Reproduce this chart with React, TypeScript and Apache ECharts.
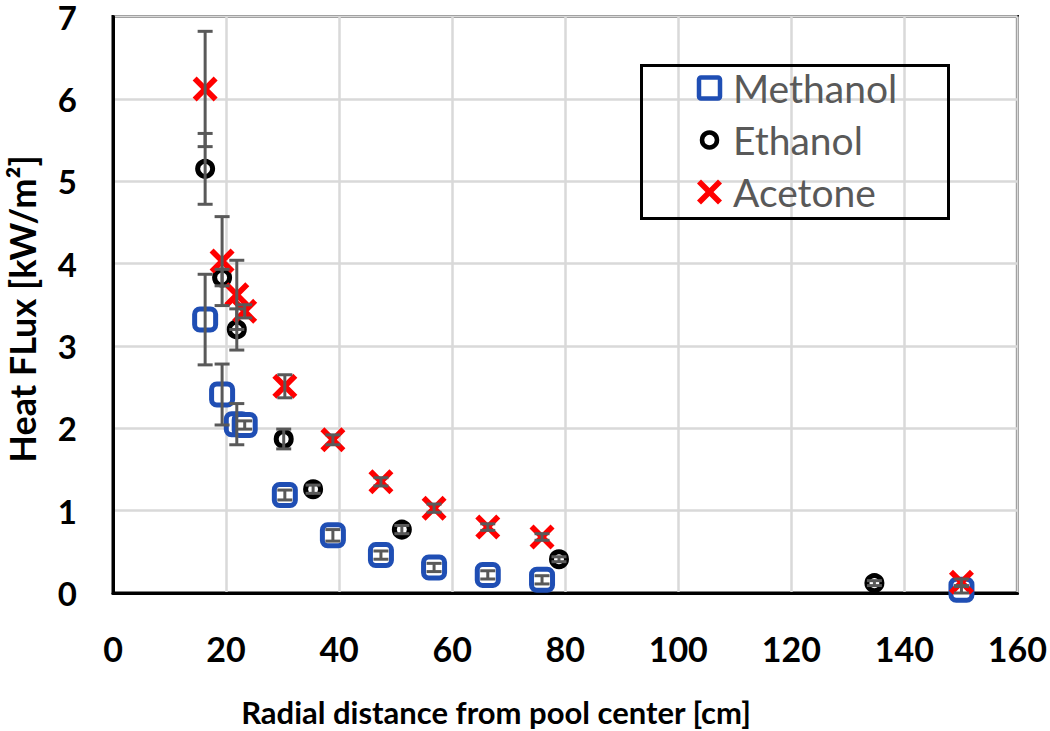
import React, { useEffect, useRef } from "react";
import * as echarts from "echarts";

const xTicks = [0, 20, 40, 60, 80, 100, 120, 140, 160];
const yTicks = [0, 1, 2, 3, 4, 5, 6, 7];

const methanolX = [16.3, 19.3, 21.9, 23.3, 30.4, 38.9, 47.4, 56.8, 66.3, 75.9, 150.1];
const methanolY = [3.32, 2.41, 2.05, 2.04, 1.19, 0.7, 0.46, 0.31, 0.22, 0.16, 0.04];
const methanolErr = [0.55, 0.37, 0.25, 0.05, 0.06, 0.07, 0.05, 0.05, 0.05, 0.05, 0.04];

const ethanolX = [16.3, 19.3, 21.9, 30.2, 35.4, 51.1, 78.9, 134.7];
const ethanolY = [5.15, 3.83, 3.2, 1.87, 1.26, 0.77, 0.41, 0.12];
const ethanolErr = [0.43, 0.1, 0.25, 0.12, 0.05, 0.05, 0.03, 0.03];

const acetoneX = [16.3, 19.3, 21.9, 23.3, 30.4, 38.9, 47.4, 56.8, 66.3, 75.9, 150.1];
const acetoneY = [6.12, 4.03, 3.62, 3.42, 2.51, 1.86, 1.35, 1.03, 0.8, 0.68, 0.13];
const acetoneErr = [0.7, 0.54, 0.42, 0.08, 0.14, 0.06, 0.05, 0.05, 0.04, 0.04, 0.04];

const seriesNames = ["Methanol", "Ethanol", "Acetone"];
const xTitle = "Radial distance from pool center [cm]";
const yTitle = "Heat FLux [kW/m²]";

const FONT = "Lato";
const BLUE = "#1F4EB4";
const RED = "#FF0000";
const GRAY = "#595959";

const X_PATH =
  "path://M1.6,0 L5,3.4 L8.4,0 L10,1.6 L6.6,5 L10,8.4 L8.4,10 L5,6.6 L1.6,10 L0,8.4 L3.4,5 L0,1.6 Z";

function xPolygon(cx: number, cy: number, s: number) {
  const pts = [
    [1.6, 0], [5, 3.4], [8.4, 0], [10, 1.6], [6.6, 5], [10, 8.4],
    [8.4, 10], [5, 6.6], [1.6, 10], [0, 8.4], [3.4, 5], [0, 1.6],
  ];
  return pts.map(([px, py]) => [cx + ((px - 5) * s) / 10, cy + ((py - 5) * s) / 10]);
}

function zip(xs: number[], ys: number[]) {
  return xs.map((x, i) => [x, ys[i]]);
}
function zip3(xs: number[], ys: number[], es: number[]) {
  return xs.map((x, i) => [x, ys[i], es[i]]);
}

const errorRender = (params: any, api: any) => {
  const x = api.value(0);
  const y = api.value(1);
  const e = api.value(2);
  const top = api.coord([x, y + e]);
  const bot = api.coord([x, y - e]);
  const hw = 7.5;
  const style = { stroke: GRAY, lineWidth: 3, fill: null };
  return {
    type: "group",
    children: [
      { type: "line", shape: { x1: top[0], y1: top[1], x2: bot[0], y2: bot[1] }, style },
      { type: "line", shape: { x1: top[0] - hw, y1: top[1], x2: top[0] + hw, y2: top[1] }, style },
      { type: "line", shape: { x1: bot[0] - hw, y1: bot[1], x2: bot[0] + hw, y2: bot[1] }, style },
    ],
  };
};

export default function App() {
  const ref = useRef<HTMLDivElement>(null);
  useEffect(() => {
    if (!ref.current) return;
    const chart = echarts.init(ref.current, null, { renderer: "svg" });
    const legendX = 697;
    const legendRows = [88, 140, 192];
    chart.setOption({
      animation: false,
      backgroundColor: "#fff",
      grid: {
        left: 113,
        top: 13,
        right: 32,
        bottom: 138,
        show: true,
        borderColor: "#000",
        borderWidth: 3,
      },
      xAxis: {
        type: "value",
        min: xTicks[0],
        max: xTicks[xTicks.length - 1],
        interval: 20,
        axisLine: { show: true, onZero: false, lineStyle: { color: "#000", width: 3 } },
        axisTick: { show: false },
        axisLabel: { fontFamily: FONT, fontWeight: "bold", fontSize: 34, color: "#000", margin: 38 },
        splitLine: { show: true, lineStyle: { color: "#D9D9D9", width: 2.5 } },
      },
      yAxis: {
        type: "value",
        min: yTicks[0],
        max: yTicks[yTicks.length - 1],
        interval: 1,
        axisLine: { show: true, onZero: false, lineStyle: { color: "#000", width: 3 } },
        axisTick: { show: false },
        axisLabel: {
          fontFamily: FONT,
          fontWeight: "bold",
          fontSize: 33,
          lineHeight: 26,
          color: "#000",
          margin: 36,
        },
        splitLine: { show: true, lineStyle: { color: "#D9D9D9", width: 2.5 } },
      },
      series: [
        {
          name: seriesNames[0],
          type: "scatter",
          z: 2,
          symbol: "roundRect",
          symbolSize: 21,
          itemStyle: { color: "#fff", borderColor: BLUE, borderWidth: 5, opacity: 1 },
          data: zip(methanolX, methanolY),
        },
        {
          name: seriesNames[1],
          type: "scatter",
          z: 2,
          symbol: "circle",
          symbolSize: 15,
          itemStyle: { color: "#fff", borderColor: "#000", borderWidth: 5, opacity: 1 },
          data: zip(ethanolX, ethanolY),
        },
        {
          name: seriesNames[2],
          type: "scatter",
          z: 2,
          symbol: X_PATH,
          symbolSize: 25,
          itemStyle: { color: RED, opacity: 1 },
          data: zip(acetoneX, acetoneY),
        },
        {
          type: "custom",
          z: 3,
          renderItem: errorRender,
          data: zip3(methanolX, methanolY, methanolErr),
          silent: true,
        },
        {
          type: "custom",
          z: 3,
          renderItem: errorRender,
          data: zip3(ethanolX, ethanolY, ethanolErr),
          silent: true,
        },
        {
          type: "custom",
          z: 3,
          renderItem: errorRender,
          data: zip3(acetoneX, acetoneY, acetoneErr),
          silent: true,
        },
      ],
      graphic: [
        {
          type: "text",
          z: 10,
          x: 496,
          y: 712,
          style: {
            text: xTitle,
            fontFamily: FONT,
            fontWeight: "bold",
            fontSize: 31,
            fill: "#000",
            align: "center",
            verticalAlign: "middle",
          },
        },
        {
          type: "text",
          z: 10,
          x: 22,
          y: 309,
          rotation: Math.PI / 2,
          style: {
            text: yTitle,
            fontFamily: FONT,
            fontWeight: "bold",
            fontSize: 36,
            fill: "#000",
            align: "center",
            verticalAlign: "middle",
          },
        },
        {
          type: "rect",
          z: 10,
          shape: { x: 641.5, y: 65.5, width: 307, height: 153 },
          style: { fill: "none", stroke: "#000", lineWidth: 3 },
        },
        {
          type: "rect",
          z: 10,
          shape: { x: legendX + 2, y: legendRows[0] - 10.5, width: 21, height: 21, r: 2 },
          style: { fill: "#fff", stroke: BLUE, lineWidth: 4.5 },
        },
        {
          type: "circle",
          z: 10,
          shape: { cx: legendX + 12.5, cy: legendRows[1], r: 7.5 },
          style: { fill: "#fff", stroke: "#000", lineWidth: 4.5 },
        },
        {
          type: "polygon",
          z: 10,
          shape: { points: xPolygon(legendX + 12.5, legendRows[2], 25) },
          style: { fill: RED },
        },
        ...seriesNames.map((n, i) => ({
          type: "text",
          z: 10,
          x: 733,
          y: legendRows[i],
          style: {
            text: n,
            fontFamily: FONT,
            fontSize: 39,
            fill: GRAY,
            verticalAlign: "middle",
          },
        })),
      ],
    });
    return () => chart.dispose();
  }, []);
  return (
    <div
      ref={ref}
      style={{ position: "absolute", left: 0, top: 0, width: 1050, height: 731 }}
    />
  );
}
